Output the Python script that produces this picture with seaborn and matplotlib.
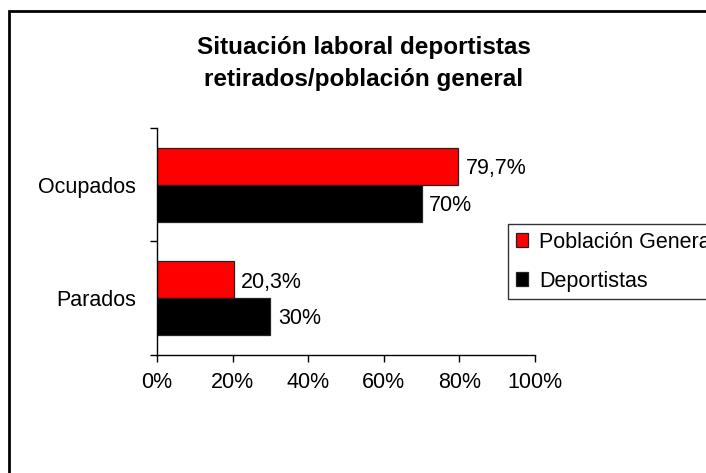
import numpy as np
import pandas as pd
import seaborn as sns
import matplotlib.pyplot as plt
from matplotlib.patches import Rectangle
from matplotlib.ticker import FixedLocator, PercentFormatter

categories = ["Ocupados", "Parados"]
series = ["Población General", "Deportistas"]
poblacion = [79.7, 20.3]
deportistas = [70.0, 30.0]
x_ticks = [0, 20, 40, 60, 80, 100]

RED = "#ff0000"
BLACK = "#000000"
FS = 15.5

sns.set_theme(style="ticks")
plt.rcParams["font.family"] = ["Liberation Sans", "DejaVu Sans"]
plt.rcParams["text.color"] = "black"
plt.rcParams["xtick.color"] = "black"
plt.rcParams["ytick.color"] = "black"
plt.rcParams["xtick.labelcolor"] = "black"
plt.rcParams["ytick.labelcolor"] = "black"

df = pd.DataFrame({
    "category": categories * 2,
    "series": [series[0]] * len(categories) + [series[1]] * len(categories),
    "value": poblacion + deportistas,
})

fig = plt.figure(figsize=(7.06, 4.73), dpi=100)
# chart frame, running off the right and bottom edges as in the source
fig.patches.append(Rectangle((9 / 706, -0.1), 1.2, 1 - 11 / 473 + 0.1,
                             transform=fig.transFigure, fill=False,
                             edgecolor="black", linewidth=2, zorder=0))

ax = fig.add_axes([157 / 706, 1 - 355 / 473, 378 / 706, 227 / 473])
sns.barplot(data=df, x="value", y="category", hue="series", orient="h",
            order=categories, hue_order=series, palette=[RED, BLACK],
            saturation=1, width=0.65, edgecolor="#222222", linewidth=0.9, ax=ax)

# value labels with comma decimal
for cont in ax.containers:
    for bar in cont:
        v = bar.get_width()
        lab = f"{v:g}%".replace(".", ",")
        ax.text(v + 2, bar.get_y() + bar.get_height() / 2 + 0.02, lab,
                va="center", ha="left", fontsize=FS, color="black")

ax.set_xlim(0, 100)
ax.set_ylim(1.5, -0.5)
ax.xaxis.set_major_locator(FixedLocator(x_ticks))
ax.xaxis.set_major_formatter(PercentFormatter(decimals=0))
ax.set_yticks([-0.5, 0.5, 1.5])
ax.set_yticklabels([])
ax.yaxis.set_minor_locator(FixedLocator([0, 1]))
ax.set_yticklabels(categories, minor=True)
ax.tick_params(axis="y", which="minor", length=0, pad=15, labelsize=FS)
ax.tick_params(axis="y", which="major", length=5, width=1, color="black")
ax.tick_params(axis="x", length=5, width=1, color="black", pad=7, labelsize=FS)
ax.set_xlabel("")
ax.set_ylabel("")
for s in ["top", "right"]:
    ax.spines[s].set_visible(False)
for s in ["left", "bottom"]:
    ax.spines[s].set_color("black")
    ax.spines[s].set_linewidth(1)

ax.legend(loc="upper left", bbox_to_anchor=(508 / 706, 1 - 224 / 473),
          bbox_transform=fig.transFigure, frameon=True, fancybox=False,
          edgecolor="black", fontsize=FS, handlelength=0.6, handleheight=0.6,
          labelspacing=0.85, borderpad=0.35, handletextpad=0.5, borderaxespad=0)
ax.get_legend().get_frame().set_linewidth(1)
for t in ax.get_legend().get_texts():
    t.set_color("black")

fig.text(364 / 706, 1 - 63.5 / 473,
         "Situación laboral deportistas\nretirados/población general",
         ha="center", va="center", fontsize=17.5, fontweight="bold",
         linespacing=1.5, color="black")

fig.savefig("out.png", dpi=100)
